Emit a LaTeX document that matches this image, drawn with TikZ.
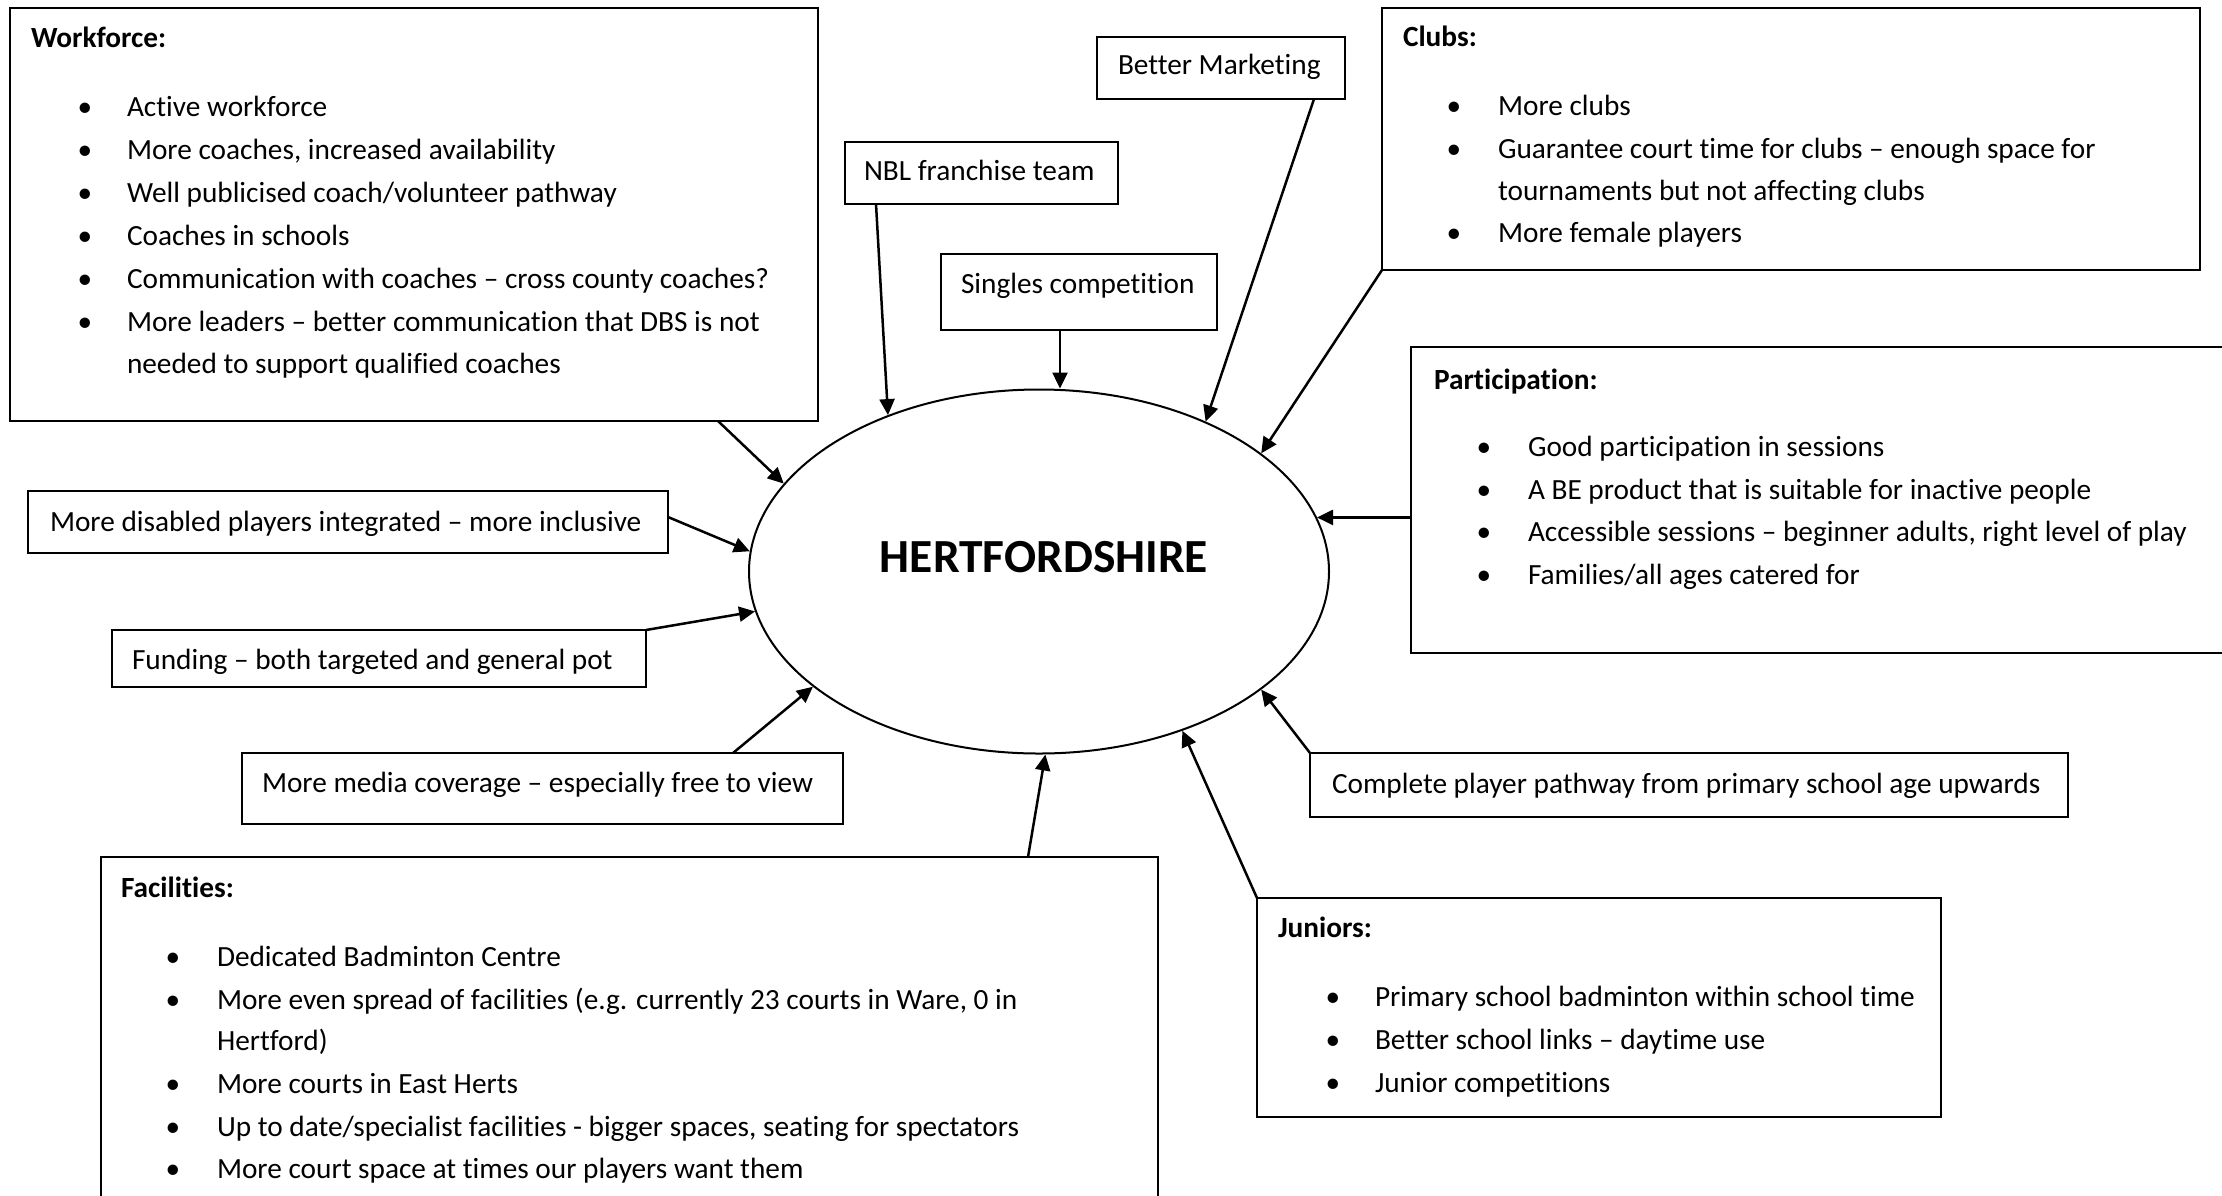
\documentclass[tikz,border=0pt]{standalone}
\usepackage{fontspec}
\setmainfont{Carlito}[Ligatures={NoCommon}]
\usetikzlibrary{arrows.meta,calc,shapes.geometric}
\tikzset{
  box/.style={draw, line width=2.2pt, inner sep=0pt, outer sep=0pt, anchor=north west},
  txt/.style={inner sep=0pt, outer sep=0pt, anchor=base west, font=\fontsize{29.3}{35}\selectfont},
  ttl/.style={txt, font=\fontsize{29.3}{35}\selectfont\bfseries},
  bul/.style={txt, anchor=base},
  arr/.style={line width=2.5pt, -{Triangle[length=16pt,width=15pt]}},
}
\newcommand\Bx[5]{\node[box, minimum width={(#4)-(#2)}, minimum height={(#5)-(#3)}] (#1) at (#2,#3) {};}
\newcommand\Tline[4]{\node[txt] (#1) at (#2,#3) {#4};}
\newcommand\Ttitle[4]{\node[ttl] (#1) at (#2,#3) {#4};}
\newcommand\Bitem[5]{\node[bul] (#1b) at (#2,#4) {•}; \node[txt] (#1) at (#3,#4) {#5};}
\begin{document}
\begin{tikzpicture}[x=1pt,y=-1pt]
\useasboundingbox[fill=white] (0,0) rectangle (2222,1195);
\clip (0,0) rectangle (2222,1195);

% boxes
\Bx{wf}{10}{8}{818}{421}
\Bx{mkt}{1097}{37}{1345}{99}
\Bx{nbl}{845}{142}{1118}{204}
\Bx{sing}{941}{254}{1217}{330}
\Bx{clubs}{1382}{8}{2200}{270}
\Bx{part}{1411}{347}{2240}{653}
\Bx{dis}{28}{491}{668}{553}
\Bx{fund}{112}{630}{646}{687}
\Bx{media}{242}{753}{843}{824}
\Bx{fac}{101}{857}{1158}{1240}
\Bx{comp}{1310}{753}{2068}{817}
\Bx{jun}{1257}{898}{1941}{1117}

% central ellipse
\node[draw, ellipse, line width=2pt, minimum width=580pt, minimum height=364pt, inner sep=0pt] (ell) at (1039,571.5) {};
\node[inner sep=0pt, anchor=base, font=\fontsize{47.5}{50}\selectfont\bfseries] (htext) at (1044,572) {HERTFORDSHIRE};

% Workforce
\Ttitle{wft}{31}{47}{Workforce:}
\Bitem{wf1}{85}{127}{116}{Active workforce}
\Bitem{wf2}{85}{127}{159}{More coaches, increased availability}
\Bitem{wf3}{85}{127}{202}{Well publicised coach/volunteer pathway}
\Bitem{wf4}{85}{127}{245}{Coaches in schools}
\Bitem{wf5}{85}{127}{288}{Communication with coaches – cross county coaches?}
\Bitem{wf6}{85}{127}{331}{More leaders – better communication that DBS is not}
\Tline{wf7}{127}{373}{needed to support qualified coaches}

% Clubs
\Ttitle{clt}{1403}{46}{Clubs:}
\Bitem{cl1}{1454}{1498}{115}{More clubs}
\Bitem{cl2}{1454}{1498}{158}{Guarantee court time for clubs – enough space for}
\Tline{cl3}{1498}{200}{tournaments but not affecting clubs}
\Bitem{cl4}{1454}{1498}{242}{More female players}

% Participation
\Ttitle{pat}{1434}{389}{Participation:}
\Bitem{pa1}{1484}{1528}{456}{Good participation in sessions}
\Bitem{pa2}{1484}{1528}{499}{A BE product that is suitable for inactive people}
\Bitem{pa3}{1484}{1528}{541}{Accessible sessions – beginner adults, right level of play}
\Bitem{pa4}{1484}{1528}{584}{Families/all ages catered for}

% Juniors
\Ttitle{jut}{1278}{937}{Juniors:}
\Bitem{ju1}{1333}{1375}{1006}{Primary school badminton within school time}
\Bitem{ju2}{1333}{1375}{1049}{Better school links – daytime use}
\Bitem{ju3}{1333}{1375}{1092}{Junior competitions}

% Facilities
\Ttitle{fat}{121}{897}{Facilities:}
\Bitem{fa1}{173}{217}{966}{Dedicated Badminton Centre}
\Bitem{fa2}{173}{217}{1009}{More even spread of facilities (e.g. currently 23 courts in Ware, 0 in}
\Tline{fa3}{217}{1050}{Hertford)}
\Bitem{fa4}{173}{217}{1093}{More courts in East Herts}
\Bitem{fa5}{173}{217}{1136}{Up to date/specialist facilities - bigger spaces, seating for spectators}
\Bitem{fa6}{173}{217}{1178}{More court space at times our players want them}

% single-line boxes
\Tline{mktt}{1118}{74}{Better Marketing}
\Tline{nblt}{864}{180}{NBL franchise team}
\Tline{singt}{961}{293}{Singles competition}
\Tline{dist}{50}{531}{More disabled players integrated – more inclusive}
\Tline{fundt}{132}{669}{Funding – both targeted and general pot}
\Tline{mediat}{262}{792}{More media coverage – especially free to view}
\Tline{compt}{1332}{793}{Complete player pathway from primary school age upwards}

% connectors
\path ([xshift=119pt]sing.south west) coordinate (singout);
\draw[arr] ([xshift=708pt]wf.south west) -- (ell.161.7);
\draw[arr] ([yshift=5pt]dis.east) -- (ell.176.4);
\draw[arr] (fund.north east) -- (ell.188.5);
\draw[arr] ([xshift=491pt]media.north west) -- (ell.207.7);
\draw[arr] ([xshift=927pt]fac.north west) -- (ell.-88.4);
\draw[arr] (jun.north west) -- (ell.-48.8);
\draw[arr] (comp.north west) -- (ell.-28.2);
\draw[arr] (ell.11.3 -| part.west) -- (ell.11.3);
\draw[arr] (clubs.south west) -- (ell.28.5);
\draw[arr] ([xshift=217pt]mkt.south west) -- (ell.42.7);
\draw[arr] (singout) -- (singout |- ell.north);
\draw[arr] ([xshift=31pt]nbl.south west) -- (ell.134.1);
\end{tikzpicture}
\end{document}
